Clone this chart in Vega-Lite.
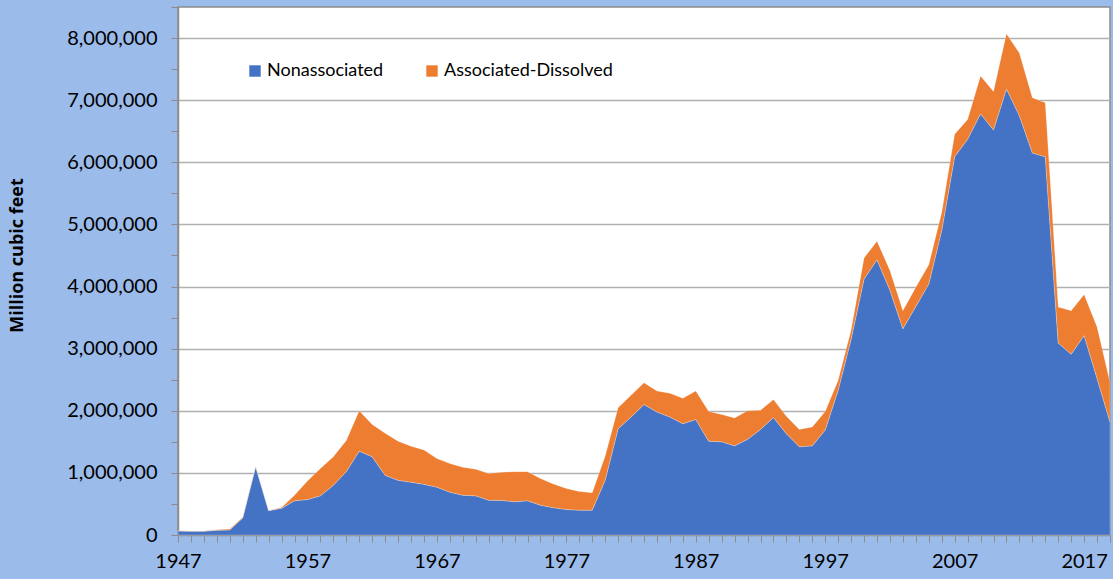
{
  "$schema": "https://vega.github.io/schema/vega-lite/v6.json",
  "width": 932,
  "height": 528,
  "autosize": {"type": "none"},
  "padding": {"left": 178, "top": 7, "right": 3, "bottom": 44},
  "background": "#9bbbea",
  "config": {
    "font": "Lato",
    "view": {"fill": "white", "stroke": "#8c8c8c", "strokeWidth": 1.5}
  },
  "data": {
    "values": [
      {"year": 1947, "Nonassociated": 64000, "Associated-Dissolved": 3000},
      {"year": 1948, "Nonassociated": 60000, "Associated-Dissolved": 3000},
      {"year": 1949, "Nonassociated": 60000, "Associated-Dissolved": 4000},
      {"year": 1950, "Nonassociated": 75000, "Associated-Dissolved": 11000},
      {"year": 1951, "Nonassociated": 80000, "Associated-Dissolved": 16000},
      {"year": 1952, "Nonassociated": 275000, "Associated-Dissolved": 12000},
      {"year": 1953, "Nonassociated": 1100000, "Associated-Dissolved": 5000},
      {"year": 1954, "Nonassociated": 390000, "Associated-Dissolved": 5000},
      {"year": 1955, "Nonassociated": 430000, "Associated-Dissolved": 12000},
      {"year": 1956, "Nonassociated": 550000, "Associated-Dissolved": 90000},
      {"year": 1957, "Nonassociated": 570000, "Associated-Dissolved": 300000},
      {"year": 1958, "Nonassociated": 630000, "Associated-Dissolved": 440000},
      {"year": 1959, "Nonassociated": 800000, "Associated-Dissolved": 460000},
      {"year": 1960, "Nonassociated": 1020000, "Associated-Dissolved": 500000},
      {"year": 1961, "Nonassociated": 1350000, "Associated-Dissolved": 650000},
      {"year": 1962, "Nonassociated": 1260000, "Associated-Dissolved": 520000},
      {"year": 1963, "Nonassociated": 960000, "Associated-Dissolved": 680000},
      {"year": 1964, "Nonassociated": 880000, "Associated-Dissolved": 630000},
      {"year": 1965, "Nonassociated": 850000, "Associated-Dissolved": 580000},
      {"year": 1966, "Nonassociated": 815000, "Associated-Dissolved": 555000},
      {"year": 1967, "Nonassociated": 770000, "Associated-Dissolved": 460000},
      {"year": 1968, "Nonassociated": 690000, "Associated-Dissolved": 460000},
      {"year": 1969, "Nonassociated": 640000, "Associated-Dissolved": 450000},
      {"year": 1970, "Nonassociated": 630000, "Associated-Dissolved": 430000},
      {"year": 1971, "Nonassociated": 560000, "Associated-Dissolved": 430000},
      {"year": 1972, "Nonassociated": 556000, "Associated-Dissolved": 454000},
      {"year": 1973, "Nonassociated": 535000, "Associated-Dissolved": 485000},
      {"year": 1974, "Nonassociated": 550000, "Associated-Dissolved": 470000},
      {"year": 1975, "Nonassociated": 480000, "Associated-Dissolved": 430000},
      {"year": 1976, "Nonassociated": 440000, "Associated-Dissolved": 380000},
      {"year": 1977, "Nonassociated": 410000, "Associated-Dissolved": 340000},
      {"year": 1978, "Nonassociated": 400000, "Associated-Dissolved": 300000},
      {"year": 1979, "Nonassociated": 400000, "Associated-Dissolved": 280000},
      {"year": 1980, "Nonassociated": 880000, "Associated-Dissolved": 390000},
      {"year": 1981, "Nonassociated": 1710000, "Associated-Dissolved": 340000},
      {"year": 1982, "Nonassociated": 1900000, "Associated-Dissolved": 350000},
      {"year": 1983, "Nonassociated": 2100000, "Associated-Dissolved": 350000},
      {"year": 1984, "Nonassociated": 1980000, "Associated-Dissolved": 340000},
      {"year": 1985, "Nonassociated": 1900000, "Associated-Dissolved": 380000},
      {"year": 1986, "Nonassociated": 1790000, "Associated-Dissolved": 410000},
      {"year": 1987, "Nonassociated": 1860000, "Associated-Dissolved": 460000},
      {"year": 1988, "Nonassociated": 1510000, "Associated-Dissolved": 480000},
      {"year": 1989, "Nonassociated": 1500000, "Associated-Dissolved": 440000},
      {"year": 1990, "Nonassociated": 1435000, "Associated-Dissolved": 450000},
      {"year": 1991, "Nonassociated": 1540000, "Associated-Dissolved": 460000},
      {"year": 1992, "Nonassociated": 1700000, "Associated-Dissolved": 310000},
      {"year": 1993, "Nonassociated": 1890000, "Associated-Dissolved": 290000},
      {"year": 1994, "Nonassociated": 1630000, "Associated-Dissolved": 280000},
      {"year": 1995, "Nonassociated": 1420000, "Associated-Dissolved": 280000},
      {"year": 1996, "Nonassociated": 1435000, "Associated-Dissolved": 305000},
      {"year": 1997, "Nonassociated": 1690000, "Associated-Dissolved": 300000},
      {"year": 1998, "Nonassociated": 2330000, "Associated-Dissolved": 160000},
      {"year": 1999, "Nonassociated": 3150000, "Associated-Dissolved": 150000},
      {"year": 2000, "Nonassociated": 4120000, "Associated-Dissolved": 340000},
      {"year": 2001, "Nonassociated": 4430000, "Associated-Dissolved": 300000},
      {"year": 2002, "Nonassociated": 3940000, "Associated-Dissolved": 320000},
      {"year": 2003, "Nonassociated": 3320000, "Associated-Dissolved": 290000},
      {"year": 2004, "Nonassociated": 3680000, "Associated-Dissolved": 310000},
      {"year": 2005, "Nonassociated": 4040000, "Associated-Dissolved": 310000},
      {"year": 2006, "Nonassociated": 4900000, "Associated-Dissolved": 290000},
      {"year": 2007, "Nonassociated": 6090000, "Associated-Dissolved": 360000},
      {"year": 2008, "Nonassociated": 6370000, "Associated-Dissolved": 320000},
      {"year": 2009, "Nonassociated": 6780000, "Associated-Dissolved": 610000},
      {"year": 2010, "Nonassociated": 6520000, "Associated-Dissolved": 620000},
      {"year": 2011, "Nonassociated": 7180000, "Associated-Dissolved": 890000},
      {"year": 2012, "Nonassociated": 6750000, "Associated-Dissolved": 1010000},
      {"year": 2013, "Nonassociated": 6150000, "Associated-Dissolved": 890000},
      {"year": 2014, "Nonassociated": 6090000, "Associated-Dissolved": 870000},
      {"year": 2015, "Nonassociated": 3090000, "Associated-Dissolved": 580000},
      {"year": 2016, "Nonassociated": 2910000, "Associated-Dissolved": 700000},
      {"year": 2017, "Nonassociated": 3210000, "Associated-Dissolved": 660000},
      {"year": 2018, "Nonassociated": 2520000, "Associated-Dissolved": 830000},
      {"year": 2019, "Nonassociated": 1820000, "Associated-Dissolved": 640000}
    ]
  },
  "transform": [
    {"fold": ["Nonassociated", "Associated-Dissolved"], "as": ["series", "value"]}
  ],
  "mark": {"type": "area", "line": false, "stroke": "#ffffff", "strokeWidth": 0.4, "strokeOpacity": 0.6},
  "encoding": {
    "x": {
      "field": "year",
      "type": "quantitative",
      "scale": {"domain": [1947, 2019], "nice": false, "zero": false},
      "axis": {
        "title": null,
        "values": [1947,1948,1949,1950,1951,1952,1953,1954,1955,1956,1957,1958,1959,1960,1961,1962,1963,1964,1965,1966,1967,1968,1969,1970,1971,1972,1973,1974,1975,1976,1977,1978,1979,1980,1981,1982,1983,1984,1985,1986,1987,1988,1989,1990,1991,1992,1993,1994,1995,1996,1997,1998,1999,2000,2001,2002,2003,2004,2005,2006,2007,2008,2009,2010,2011,2012,2013,2014,2015,2016,2017,2018,2019],
        "labelExpr": "(datum.value - 1947) % 10 === 0 ? '' + datum.value : ''",
        "labelOverlap": false,
        "labelBound": false,
        "labelFlush": false,
        "grid": false,
        "domainColor": "#8c8c8c",
        "domainWidth": 1.5,
        "tickColor": "#8c8c8c",
        "tickSize": 7,
        "tickWidth": 1,
        "labelFontSize": 20,
        "labelColor": "#000000",
        "labelPadding": 9
      }
    },
    "y": {
      "field": "value",
      "type": "quantitative",
      "stack": "zero",
      "scale": {"domain": [0, 8500000], "nice": false},
      "axis": {
        "title": "Million cubic feet",
        "titleFont": "Open Sans",
        "titleFontSize": 18,
        "titleFontWeight": "bold",
        "titleColor": "#000000",
        "titleX": -161,
        "titleY": 248,
        "titleAlign": "center",
        "titleBaseline": "middle",
        "titleAngle": -90,
        "values": [0,500000,1000000,1500000,2000000,2500000,3000000,3500000,4000000,4500000,5000000,5500000,6000000,6500000,7000000,7500000,8000000,8500000],
        "labelExpr": "datum.value % 1000000 === 0 ? format(datum.value, ',') : ''",
        "labelOverlap": false,
        "labelFontSize": 20,
        "labelColor": "#000000",
        "labelPadding": 14,
        "tickColor": "#8c8c8c",
        "tickSize": 7,
        "domainColor": "#8c8c8c",
        "domainWidth": 1.5,
        "grid": true,
        "gridColor": "#b0b0b0",
        "gridWidth": 1.5,
        "gridOpacity": {"condition": {"test": "datum.value % 1000000 !== 0 || datum.value === 0", "value": 0}, "value": 1}
      }
    },
    "color": {
      "field": "series",
      "type": "nominal",
      "scale": {"domain": ["Nonassociated", "Associated-Dissolved"], "range": ["#4472c4", "#ed7d31"]},
      "legend": {
        "title": null,
        "orient": "none",
        "legendX": 68,
        "legendY": 55,
        "direction": "horizontal",
        "symbolType": "square",
        "symbolSize": 130,
        "symbolStrokeWidth": 0,
        "labelFontSize": 18,
        "labelLimit": 400,
        "labelColor": "#000000",
        "columnPadding": 39,
        "labelOffset": 3,
        "fillColor": null
      }
    },
    "order": {"field": "series", "sort": "descending"}
  }
}
